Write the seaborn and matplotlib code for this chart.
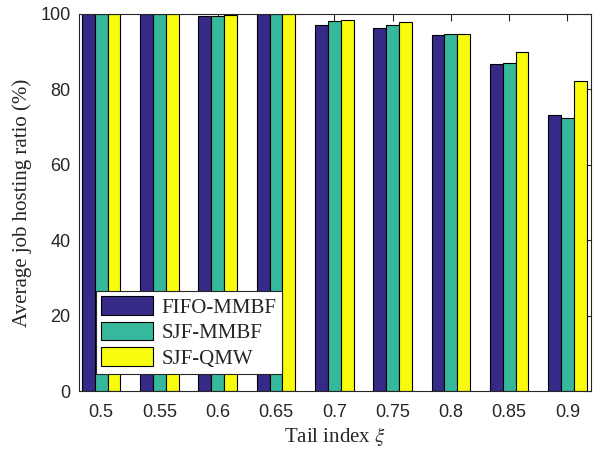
import matplotlib
matplotlib.use("Agg")
import matplotlib.pyplot as plt
import seaborn as sns
import pandas as pd

tail_index = ["0.5", "0.55", "0.6", "0.65", "0.7", "0.75", "0.8", "0.85", "0.9"]
fifo_mmbf = [100, 100, 99.5, 100, 97.2, 96.4, 94.4, 86.6, 73.3]
sjf_mmbf = [100, 100, 99.4, 100, 98.0, 97.0, 94.6, 86.9, 72.5]
sjf_qmw = [100, 100, 99.7, 100, 98.5, 97.9, 94.8, 89.9, 82.3]
series_names = ["FIFO-MMBF", "SJF-MMBF", "SJF-QMW"]
colors = ["#352A87", "#36B89C", "#F9FB0E"]

rows = []
for name, vals in zip(series_names, [fifo_mmbf, sjf_mmbf, sjf_qmw]):
    for t, v in zip(tail_index, vals):
        rows.append({"xi": t, "ratio": v, "method": name})
df = pd.DataFrame(rows)

sns.set_style("white")
plt.rcParams["xtick.direction"] = "in"
plt.rcParams["ytick.direction"] = "in"
plt.rcParams["mathtext.fontset"] = "stix"

fig = plt.figure(figsize=(6.01, 4.5), dpi=100)
ax = fig.add_axes([0.1314, 0.131, 0.8516, 0.838])

sns.barplot(data=df, x="xi", y="ratio", hue="method", order=tail_index,
            hue_order=series_names, palette=colors, width=0.66,
            edgecolor="black", linewidth=0.8, errorbar=None, ax=ax, saturation=1)

ax.set_xlim(-0.38, 8.4)
ax.set_ylim(0, 100)
ax.set_yticks([0, 20, 40, 60, 80, 100])
ax.tick_params(axis="both", labelsize=13, length=5, width=0.8, colors="#262626",
               top=True, right=True, labelcolor="#262626")
ax.tick_params(axis="x", pad=9)
ax.tick_params(axis="y", pad=6)
for t in ax.get_xticklabels() + ax.get_yticklabels():
    t.set_fontfamily("Liberation Sans")
for s in ax.spines.values():
    s.set_visible(True)
    s.set_linewidth(0.8)
    s.set_color("#262626")

ax.set_xlabel("Tail index $\\xi$", fontsize=15, family="Liberation Serif", color="#262626", labelpad=3)
ax.set_ylabel("Average job hosting ratio (%)", fontsize=15, family="Liberation Serif", color="#262626", labelpad=6)

handles, labels = ax.get_legend_handles_labels()
leg = ax.legend(handles, labels, loc="lower left", bbox_to_anchor=(0.033, 0.045),
                borderaxespad=0, frameon=True, fancybox=False, framealpha=1,
                edgecolor="#262626", handlelength=2.5, handleheight=1.0,
                prop={"family": "Liberation Serif", "size": 15},
                borderpad=0.25, labelspacing=0.2, handletextpad=0.4)
leg.get_frame().set_linewidth(0.8)

fig.savefig("out.png", dpi=100)
